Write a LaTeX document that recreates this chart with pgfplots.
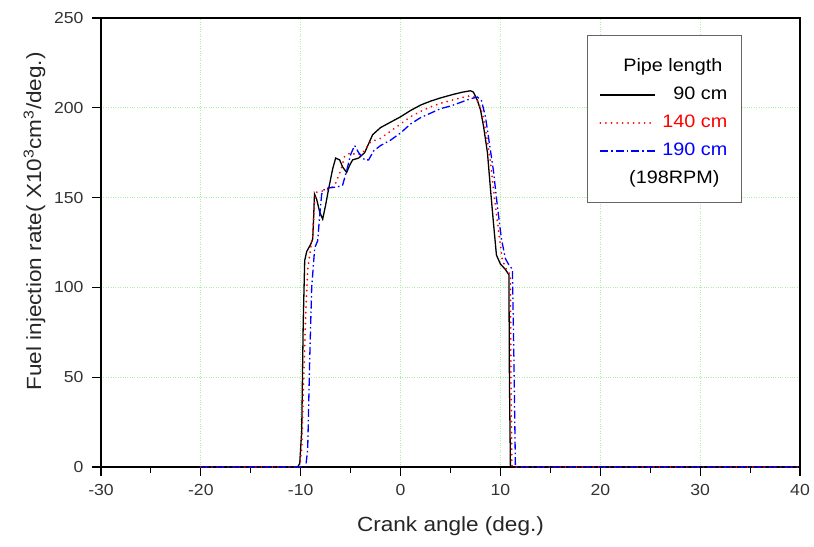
\documentclass[border=0pt]{standalone}
\usepackage{fontspec}
\setmainfont{Liberation Sans}[FakeStretch=1.1]
\usepackage{pgfplots}
\pgfplotsset{compat=1.18}
\definecolor{gridgreen}{RGB}{170,238,170}
\begin{document}
\begin{tikzpicture}
\begin{axis}[name=ax,
  scale only axis, width=699bp, height=449bp,
  xmin=-30, xmax=40, ymin=0, ymax=250,
  xtick={-30,-20,...,40}, xticklabels={-30,-20,-10,0,10,20,30,40},
  ytick={0,50,...,250}, yticklabels={0,50,100,150,200,250},
  minor x tick num=1,
  tick pos=left, tick align=outside,
  major tick length=9bp, minor tick length=6bp,
  every tick/.style={black, line width=1.1bp},
  axis line style={line width=1.2bp},
  grid=major, major grid style={gridgreen, dotted, line width=0.8bp},
  tick label style={font=\fontsize{16bp}{19bp}\selectfont, text=black!80},
  xticklabel style={yshift=-5bp},
  yticklabel style={xshift=-5bp},
  label style={font=\fontsize{20.5bp}{24bp}\selectfont, text=black!85},
  xlabel={Crank angle (deg.)},
  xlabel style={yshift=-14bp},
  ylabel={Fuel injection rate( X10\textsuperscript{3}cm\textsuperscript{3}/deg.)},
  ylabel style={at={(ticklabel cs:0.547,2bp)}},
  legend style={at={(rel axis cs:0.917,0.962)}, anchor=north east,
    draw=black!60, line width=1.2bp, inner xsep=12bp, inner ysep=13bp,
    row sep=7bp, column sep=4bp,
    font=\fontsize{18bp}{21bp}\selectfont},
  legend cell align=right,
  legend image code/.code={\draw[#1] (0bp,0bp) -- (55bp,0bp);},
  no markers,
]
\addlegendimage{empty legend}
\addlegendentry[text height=21bp, text depth=4bp]{\makebox[0pt][r]{Pipe length\hspace{5bp}}}

\addplot[black, line width=1.3bp] coordinates {
(-20,0) (-10.3,0) (-10.1,2) (-9.9,20) (-9.75,80) (-9.6,115) (-9.4,120) (-9.0,124) (-8.8,127) (-8.7,140) (-8.62,152) (-8.4,149) (-8.1,142) (-7.8,138) (-7.5,146) (-7.2,155) (-6.8,166) (-6.5,172) (-6.1,171) (-5.8,167) (-5.4,164) (-5.1,168) (-4.8,171) (-4.2,172) (-3.6,175) (-3.2,180) (-2.8,185) (-2,189) (-1,192) (0,195) (1,198.5) (2,201.5) (3,203.7) (4,205.5) (5.3,207.5) (6.2,208.7) (7,209.5) (7.3,208.7) (7.7,204) (8,199) (8.3,190) (8.7,175) (9.0,155) (9.3,136) (9.6,118) (10.0,113) (10.5,110) (10.85,107) (10.9,50) (11.0,0) (40,0)
};
\addlegendentry[text height=13bp, text depth=4bp]{90 cm}

\addplot[red, line width=2bp, line cap=round, dash pattern=on 0.01bp off 5.5bp] coordinates {
(-20,0) (-10.1,0) (-9.9,10) (-9.7,50) (-9.5,85) (-9.3,110) (-9.0,122) (-8.8,128) (-8.6,148) (-8.4,153) (-7.5,154) (-7,155) (-6.5,158) (-6.0,165) (-5.6,173) (-5,175) (-4.5,174) (-4,174) (-3.5,177) (-3,181) (-2,183) (-1,187) (0,191) (1,195) (2,198) (3,200.5) (4,202.5) (5,204) (6,205.5) (6.8,206.5) (7.4,206) (7.8,203) (8.2,197) (8.6,185) (9.0,170) (9.4,150) (9.8,132) (10.2,115) (10.6,110) (11.0,107) (11.05,50) (11.15,0) (40,0)
};
\addlegendentry[text height=13bp, text depth=4bp]{\textcolor{red}{140 cm}}

\addplot[blue, line width=1.3bp, dash pattern=on 8bp off 3bp on 1.5bp off 3bp] coordinates {
(-20,0) (-9.5,0) (-9.3,10) (-9.1,60) (-8.9,100) (-8.6,122) (-8.3,126) (-8.1,140) (-7.9,152) (-7.6,155) (-7,155.5) (-6.3,156) (-5.8,157) (-5.4,165) (-5,174) (-4.6,179) (-4.2,175) (-3.6,171) (-3.2,171) (-2.7,176) (-2,179) (-1,182) (0,186) (1,191) (2,194.5) (3,197) (4,199.5) (5,201) (6,203) (7,205) (7.7,206) (8.1,204) (8.5,195) (8.9,180) (9.3,165) (9.7,145) (10.1,127) (10.5,116) (10.8,113) (11.2,110) (11.35,60) (11.5,0) (40,0)
};
\addlegendentry[text height=13bp, text depth=4bp]{\textcolor{blue}{190 cm}}

\addlegendimage{empty legend}
\addlegendentry[text height=13bp, text depth=4bp]{\makebox[0pt][r]{(198RPM)\hspace{8bp}}}
\end{axis}
\pgfresetboundingbox
\path ([xshift=-101bp,yshift=-79bp]ax.south west) rectangle ([xshift=14bp,yshift=18bp]ax.north east);
\end{tikzpicture}
\end{document}
